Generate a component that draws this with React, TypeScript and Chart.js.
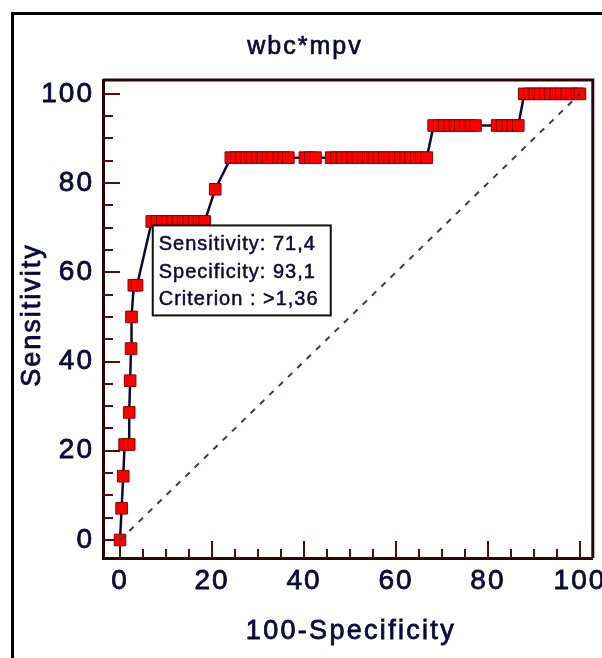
import React, { useEffect, useRef } from "react";
import { Chart, registerables } from "chart.js";

Chart.register(...registerables);

// ROC curve points: x = 100-Specificity, y = Sensitivity
const FPR = [
  0, 0.35, 0.7, 1.0, 2.0, 2.0, 2.2, 2.4, 2.5, 3.0, 3.7,
  6.9, 8.0, 9.2, 10.3, 11.5, 12.6, 13.8, 14.9, 16.1, 17.2, 18.4,
  20.7,
  24.1, 25.3, 26.4, 27.6, 28.7, 29.9, 31.0, 32.2, 33.3, 34.5, 35.6, 36.6,
  40.2, 41.4, 42.5,
  45.9, 47.1, 48.3, 49.4, 50.6, 51.7, 52.9, 54.0, 55.2, 56.3, 57.5, 58.6, 59.8, 60.9, 62.1, 63.2, 64.4, 65.5, 66.7,
  68.2, 69.4, 70.5, 71.7, 72.8, 74.0, 75.1, 76.3, 77.3,
  82.0, 83.1, 84.3, 85.4, 86.6,
  87.9, 89.0, 90.2, 91.3, 92.5, 93.6, 94.8, 95.9, 97.1, 98.2, 99.4, 100,
];
const SENS = [
  0, 7.1, 14.3, 21.4, 21.4, 28.6, 35.7, 42.9, 50.0, 57.1, 57.1,
  71.4, 71.4, 71.4, 71.4, 71.4, 71.4, 71.4, 71.4, 71.4, 71.4, 71.4,
  78.6,
  85.7, 85.7, 85.7, 85.7, 85.7, 85.7, 85.7, 85.7, 85.7, 85.7, 85.7, 85.7,
  85.7, 85.7, 85.7,
  85.7, 85.7, 85.7, 85.7, 85.7, 85.7, 85.7, 85.7, 85.7, 85.7, 85.7, 85.7, 85.7, 85.7, 85.7, 85.7, 85.7, 85.7, 85.7,
  92.9, 92.9, 92.9, 92.9, 92.9, 92.9, 92.9, 92.9, 92.9,
  92.9, 92.9, 92.9, 92.9, 92.9,
  100, 100, 100, 100, 100, 100, 100, 100, 100, 100, 100, 100,
];
const DIAG_X = [0, 100];
const DIAG_Y = [0, 100];

const X_TICKS = [0, 20, 40, 60, 80, 100];
const Y_TICKS = [0, 20, 40, 60, 80, 100];

const TITLE = "wbc*mpv";
const X_TITLE = "100-Specificity";
const Y_TITLE = "Sensitivity";

const CUT_FPR = 6.9;
const CUT_SENS = 71.4;
const INFO_LINES = ["Sensitivity: 71,4", "Specificity: 93,1", "Criterion : >1,36"];

const FONT = "'Liberation Sans', Arial, sans-serif";
const TEXT_COLOR = "#0a0a3a";
const FRAME_COLOR = "#2a0505";
const TICK_COLOR = "#5a0a0a";

function heavyText(ctx: any, text: string, x: number, y: number, stroke: number) {
  ctx.fillText(text, x, y);
  ctx.lineWidth = stroke;
  ctx.strokeStyle = TEXT_COLOR;
  ctx.strokeText(text, x, y);
}

const framePlugin = {
  id: "frameTicksBox",
  beforeDraw(chart: any) {
    chart.ctx.letterSpacing = "2px";
  },
  beforeDatasetsDraw(chart: any) {
    const { ctx, chartArea, scales } = chart;
    const { left, right, top, bottom } = chartArea;
    ctx.save();
    ctx.strokeStyle = TICK_COLOR;
    ctx.lineWidth = 2;
    for (let v = 0; v <= 100; v += 5) {
      const major = v % 20 === 0;
      const px = Math.round(scales.x.getPixelForValue(v));
      ctx.beginPath();
      ctx.moveTo(px, bottom);
      ctx.lineTo(px, bottom - (major ? 17 : 9));
      ctx.stroke();
      const py = Math.round(scales.y.getPixelForValue(v));
      ctx.beginPath();
      ctx.moveTo(left, py);
      ctx.lineTo(left + (major ? 17 : 10), py);
      ctx.stroke();
    }
    ctx.strokeStyle = FRAME_COLOR;
    ctx.lineWidth = 3;
    ctx.beginPath();
    ctx.moveTo(left, top);
    ctx.lineTo(right, top);
    ctx.lineTo(right, bottom);
    ctx.stroke();
    ctx.restore();

    // titles
    ctx.save();
    ctx.fillStyle = TEXT_COLOR;
    ctx.textAlign = "center";
    ctx.textBaseline = "middle";
    ctx.letterSpacing = "2px";
    ctx.font = `25px ${FONT}`;
    heavyText(ctx, TITLE, 305, 47, 0.7);
    ctx.letterSpacing = "2.3px";
    ctx.font = `27px ${FONT}`;
    heavyText(ctx, X_TITLE, (left + right) / 2 + 3, 632, 0.8);
    ctx.translate(33, (top + bottom) / 2 - 4);
    ctx.rotate(-Math.PI / 2);
    ctx.letterSpacing = "2px";
    heavyText(ctx, Y_TITLE, 0, 0, 0.8);
    ctx.restore();
  },
  afterDatasetsDraw(chart: any) {
    const { ctx, scales } = chart;
    const px = scales.x.getPixelForValue(CUT_FPR);
    const py = scales.y.getPixelForValue(CUT_SENS);
    const bx = px + 1;
    const by = py + 4;
    const bw = 178;
    const bh = 90;
    ctx.save();
    ctx.fillStyle = "#ffffff";
    ctx.fillRect(bx, by, bw, bh);
    ctx.strokeStyle = "#111111";
    ctx.lineWidth = 2;
    ctx.strokeRect(bx, by, bw, bh);
    ctx.letterSpacing = "1px";
    ctx.fillStyle = TEXT_COLOR;
    ctx.font = `20px ${FONT}`;
    ctx.textAlign = "left";
    ctx.textBaseline = "alphabetic";
    const offs = [25, 53, 80];
    INFO_LINES.forEach((t, i) => heavyText(ctx, t, bx + 6, by + offs[i], 0.5));
    ctx.restore();
  },
};

export default function App() {
  const ref = useRef<HTMLCanvasElement | null>(null);

  useEffect(() => {
    if (!ref.current) return;
    const roc = FPR.map((x, i) => ({ x, y: SENS[i] }));
    const diag = DIAG_X.map((x, i) => ({ x, y: DIAG_Y[i] }));
    const chart = new Chart(ref.current, {
      type: "scatter",
      data: {
        datasets: [
          {
            data: diag,
            showLine: true,
            borderColor: "#4a3a3a",
            borderWidth: 2,
            borderDash: [6, 7],
            pointRadius: 0,
          },
          {
            data: roc,
            showLine: true,
            borderColor: "#0a0a3a",
            borderWidth: 2.5,
            pointStyle: "rect",
            pointRadius: 8.2,
            pointBackgroundColor: "#ff0000",
            pointBorderColor: "#8b0000",
            pointBorderWidth: 1,
          },
        ],
      },
      options: {
        responsive: false,
        animation: false,
        events: [],
        layout: { padding: { left: 0, right: 7, top: 80, bottom: 0 } },
        plugins: {
          legend: { display: false },
          tooltip: { enabled: false },
          title: { display: false },
        },
        scales: {
          x: {
            type: "linear",
            min: -3.7,
            max: 102.8,
            afterBuildTicks: (s: any) => {
              s.ticks = X_TICKS.map((v) => ({ value: v }));
            },
            afterFit: (s: any) => {
              s.height = 100;
              s.paddingLeft = 0;
              s.paddingRight = 0;
            },
            grid: { drawOnChartArea: false, drawTicks: false },
            border: { display: true, color: FRAME_COLOR, width: 3 },
            ticks: {
              color: TEXT_COLOR,
              textStrokeColor: TEXT_COLOR,
              textStrokeWidth: 0.8,
              font: { size: 28, family: FONT },
              padding: 6,
              maxRotation: 0,
              autoSkip: false,
            },
          },
          y: {
            type: "linear",
            min: -4.04,
            max: 103.1,
            afterBuildTicks: (s: any) => {
              s.ticks = Y_TICKS.map((v) => ({ value: v }));
            },
            afterFit: (s: any) => {
              s.width = 103;
              s.paddingTop = 0;
              s.paddingBottom = 0;
            },
            grid: { drawOnChartArea: false, drawTicks: false },
            border: { display: true, color: FRAME_COLOR, width: 3 },
            ticks: {
              color: TEXT_COLOR,
              textStrokeColor: TEXT_COLOR,
              textStrokeWidth: 0.8,
              font: { size: 28, family: FONT },
              padding: 9,
              autoSkip: false,
            },
          },
        },
      },
      plugins: [framePlugin],
    } as any);
    return () => chart.destroy();
  }, []);

  return (
    <div
      style={{
        position: "fixed",
        left: 0,
        top: 0,
        width: 602,
        height: 658,
        overflow: "hidden",
        background: "#ffffff",
      }}
    >
      <canvas
        ref={ref}
        width={602}
        height={658}
        style={{ position: "absolute", left: 0, top: 0, width: 602, height: 658 }}
      />
      <div
        style={{
          position: "absolute",
          left: 11,
          top: 12,
          width: 700,
          height: 700,
          borderLeft: "3px solid #000",
          borderTop: "3px solid #000",
          pointerEvents: "none",
        }}
      />
    </div>
  );
}
